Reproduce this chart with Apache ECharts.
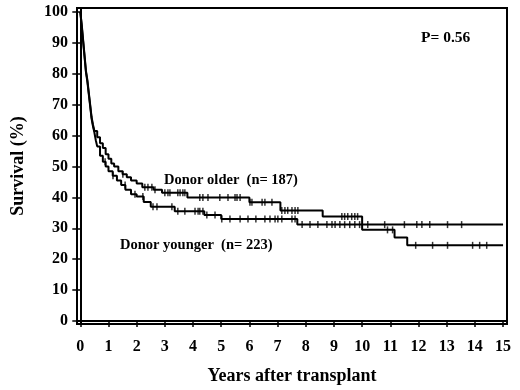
<!DOCTYPE html>
<html>
<head>
<meta charset="utf-8">
<style>html,body{margin:0;padding:0;background:#fff;}#c{width:520px;height:390px;}</style>
<script src="https://cdn.jsdelivr.net/npm/echarts@6/dist/echarts.min.js"></script>
</head>
<body>
<div id="c"></div>
<script>
const xTickValues = [0,1,2,3,4,5,6,7,8,9,10,11,12,13,14,15];
const yTickValues = [0,10,20,30,40,50,60,70,80,90,100];

const olderT = [0,0.05,0.1,0.15,0.2,0.25,0.3,0.35,0.4,0.45,0.5,0.6,0.7,0.8,0.9,1.0,1.1,1.2,1.35,1.5,1.65,1.8,2.0,2.2,2.6,2.9,3.8,6.0,7.1,8.6,10.0,11.15,11.6,15];
const olderS = [100,96,91,86,81,78,74,70,66,63.5,61.5,59.5,57.5,56,54,52.5,51,50,48.5,47.5,46.5,45.5,44.5,43.3,42.5,41.5,40.0,38.4,35.8,33.8,29.5,27,24.5,24.5];

const youngerT = [0,0.05,0.1,0.15,0.2,0.25,0.3,0.35,0.4,0.45,0.5,0.55,0.6,0.7,0.8,0.9,1.0,1.15,1.3,1.45,1.6,1.8,2.0,2.25,2.5,3.35,4.4,5.0,7.7,15];
const youngerS = [100,95.5,90.5,85.5,80.5,77.5,73.5,69.5,65.5,63,61,58.5,56.5,53.5,51.5,50,48.5,47,45.5,44,42.5,41,40.3,38.5,37,35.5,34.3,33,31.2,31.2];

const olderCensor = [1.51,2.29,2.40,2.54,2.65,3.00,3.11,3.18,3.46,3.54,3.64,3.71,4.24,4.35,4.53,4.95,5.24,5.49,5.56,5.67,6.02,6.09,6.45,6.55,6.80,7.15,7.26,7.36,7.51,7.62,7.72,9.28,9.38,9.49,9.63,9.74,9.84,10.9,11.08,11.9,12.5,13.03,13.92,14.17,14.42];
const youngerCensor = [0.88,1.16,1.59,1.94,2.22,2.58,2.72,3.25,3.46,3.71,4.07,4.18,4.24,4.35,4.49,4.78,5.02,5.31,5.67,5.95,6.23,6.55,6.73,6.91,7.01,7.15,7.51,7.62,7.87,8.15,8.43,8.75,8.93,9.04,9.21,9.38,9.56,9.74,9.91,10.2,10.8,11.5,11.94,12.12,12.4,13.03,13.53];

function kmAt(T, S, t) {
  let v = S[0];
  for (let i = 0; i < T.length; i++) { if (T[i] <= t) v = S[i]; }
  return v;
}

const FONT = '"Liberation Serif", "DejaVu Serif", serif';
const chart = echarts.init(document.getElementById('c'));
const lineStyle = {color:'#000', width:2};
chart.setOption({
  animation:false,
  backgroundColor:'#fff',
  grid:{left:77, top:8, width:430, height:323, show:true, borderColor:'#000', borderWidth:2, backgroundColor:'transparent'},
  xAxis:{type:'value', min:-0.117, max:15.14,
    axisLine:{show:true, lineStyle:{color:'#000', width:2}},
    axisTick:{show:true, length:6, customValues:xTickValues, lineStyle:{color:'#000', width:1.5}},
    axisLabel:{show:true, customValues:xTickValues, margin:15, color:'#000', fontFamily:FONT, fontWeight:'bold', fontSize:16},
    splitLine:{show:false},
    name:'Years after transplant', nameLocation:'middle', nameGap:43,
    nameTextStyle:{color:'#000', fontFamily:FONT, fontWeight:'bold', fontSize:18}
  },
  yAxis:{type:'value', min:-0.95, max:101.27,
    axisLine:{show:true, lineStyle:{color:'#000', width:2}},
    axisTick:{show:true, length:8, customValues:yTickValues, lineStyle:{color:'#000', width:1.5}},
    axisLabel:{show:true, customValues:yTickValues, margin:9, color:'#000', fontFamily:FONT, fontWeight:'bold', fontSize:16},
    splitLine:{show:false},
    name:'Survival (%)', nameLocation:'middle', nameGap:50, nameRotate:90,
    nameTextStyle:{color:'#000', fontFamily:FONT, fontWeight:'bold', fontSize:18}
  },
  series:[
    {type:'line', step:'end', showSymbol:false, lineStyle:lineStyle,
      data: olderT.map((t,i)=>[t, olderS[i]])},
    {type:'line', step:'end', showSymbol:false, lineStyle:lineStyle,
      data: youngerT.map((t,i)=>[t, youngerS[i]])},
    {type:'scatter', symbol:'rect', symbolSize:[1.5,7], itemStyle:{color:'#000'},
      data: olderCensor.map(t=>[t, kmAt(olderT, olderS, t)])},
    {type:'scatter', symbol:'rect', symbolSize:[1.5,7], itemStyle:{color:'#000'},
      data: youngerCensor.map(t=>[t, kmAt(youngerT, youngerS, t)])}
  ],
  graphic:[
    {type:'text', x:164, y:180, style:{text:'Donor older  (n= 187)', fill:'#000', textVerticalAlign:'middle', font:'bold 14.5px "Liberation Serif", serif'}},
    {type:'text', x:120, y:245, style:{text:'Donor younger  (n= 223)', fill:'#000', textVerticalAlign:'middle', font:'bold 14.5px "Liberation Serif", serif'}},
    {type:'text', x:421, y:38, style:{text:'P= 0.56', fill:'#000', textVerticalAlign:'middle', font:'bold 15.5px "Liberation Serif", serif'}}
  ]
});
</script>
</body>
</html>
